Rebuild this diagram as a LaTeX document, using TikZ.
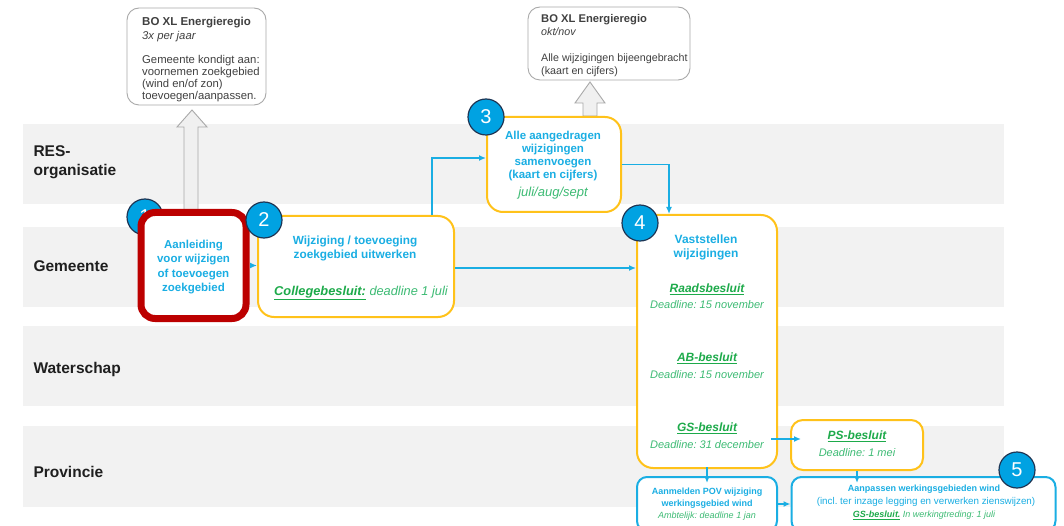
\documentclass[tikz,border=0pt]{standalone}
\usepackage{fontspec}
\setmainfont{Liberation Sans}
\usetikzlibrary{arrows.meta,shadows}
\frenchspacing
\definecolor{lane}{HTML}{F2F2F2}
\definecolor{cyanb}{HTML}{1AAEE3}
\definecolor{circ}{HTML}{00A2E2}
\definecolor{navy}{HTML}{1E3655}
\definecolor{yel}{HTML}{FFC21A}
\definecolor{grn}{HTML}{1DAA4A}
\definecolor{lgrn}{HTML}{3DBB74}
\definecolor{gbord}{HTML}{A9A9A9}
\definecolor{redb}{HTML}{BC0000}
\tikzset{
  lanebox/.style={fill=lane,draw=none},
  lanelabel/.style={anchor=west,font=\fontsize{15.5}{19}\selectfont\bfseries,align=left,text=black!88},
  infobox/.style={draw=gbord,line width=0.9pt,rounded corners=12pt,fill=white,anchor=north west,inner sep=0pt},
  infotext/.style={anchor=north west,align=left,font=\fontsize{11.3}{12}\selectfont,text=black!75,inner sep=0pt},
  yelbox/.style={draw=yel,line width=2pt,rounded corners=16pt,fill=white,inner sep=0pt},
  bluebox/.style={draw=cyanb,line width=2pt,rounded corners=10pt,fill=white,inner sep=0pt},
  ttl/.style={text=cyanb,font=\fontsize{11.5}{14.2}\selectfont\bfseries,align=center,inner sep=0pt},
  sttl/.style={text=cyanb,font=\fontsize{9}{12}\selectfont\bfseries,align=center,inner sep=0pt},
  dl/.style={text=lgrn,font=\fontsize{11}{13}\selectfont\itshape,align=center,inner sep=0pt},
  gtl/.style={text=grn,font=\fontsize{12}{13}\selectfont\itshape\bfseries,align=center,inner sep=0pt},
  sdl/.style={text=lgrn,font=\fontsize{9}{11}\selectfont\itshape,align=center,inner sep=0pt},
  numc/.style={circle,fill=circ,draw=navy,line width=1.2pt,minimum size=36pt,inner sep=0pt,text=white,font=\fontsize{20}{20}\selectfont},
  conn/.style={draw=cyanb,line width=1.5pt,-{Latex[length=7pt,width=6pt]}},
  blockarrow/.style={fill=black!6,draw=gbord,line width=0.9pt,line join=miter}
}
\newcommand{\gb}[1]{\textbf{\underline{#1}}}
\begin{document}
\begin{tikzpicture}[x=1pt,y=-1pt]
\useasboundingbox (0,0) rectangle (1064,526);
\clip (0,0) rectangle (1064,526);
\fill[white] (0,0) rectangle (1064,526);
% lanes
\fill[lanebox] (23,124) rectangle (1004,204);
\fill[lanebox] (23,227) rectangle (1004,307);
\fill[lanebox] (23,326) rectangle (1004,406);
\fill[lanebox] (23,426) rectangle (1004,507);
\node[lanelabel] (lres) at (30,162) {RES-\\organisatie};
\node[lanelabel] (lgem) at (30,266) {Gemeente};
\node[lanelabel] (lwat) at (30,369) {Waterschap};
\node[lanelabel] (lpro) at (30,472) {Provincie};
% info boxes
\draw[infobox] (127,8) rectangle (266,105);
\node[infotext] (info1) at (142,16.5) {\textbf{\fontsize{11.5}{12}\selectfont BO XL Energieregio}\\[2.5pt] \textit{3x per jaar}\\[12pt] Gemeente kondigt aan:\\ voornemen zoekgebied\\ (wind en/of zon)\\ toevoegen/aanpassen.};
\draw[infobox] (528,7) rectangle (690,80);
\node[infotext,font=\fontsize{10.7}{13}\selectfont] (info2) at (541,14) {\textbf{\fontsize{11.2}{12}\selectfont BO XL Energieregio}\\ \textit{okt/nov}\\[13pt] Alle wijzigingen bijeengebracht\\ (kaart en cijfers)};
% block arrows
\draw[blockarrow] (184,212) -- (184,127) -- (177,127) -- (192,110) -- (207,127) -- (198,127) -- (198,212) -- cycle;
\draw[blockarrow] (583,116) -- (583,103) -- (575,103) -- (590,82) -- (605,103) -- (597,103) -- (597,116) -- cycle;
% circle 1 (behind red box)
\node[numc] (c1) at (145,217) {1};
% box 1
\node[yelbox,draw=redb,line width=7pt,rounded corners=14pt,minimum width=105pt,minimum height=106pt,drop shadow={opacity=0.35,shadow xshift=1.5pt,shadow yshift=-2pt}] (b1) at (193.5,265.5) {};
\node[ttl] (t1) at (193.5,267) {Aanleiding\\voor wijzigen\\of toevoegen\\zoekgebied};
% box 2
\node[yelbox,minimum width=196pt,minimum height=101pt] (b2) at (356,266.5) {};
\node[ttl,font=\fontsize{11.8}{14}\selectfont\bfseries] (t2) at (355,248.5) {Wijziging / toevoeging\\zoekgebied uitwerken};
\node[dl,font=\fontsize{12.8}{14}\selectfont\itshape] (d2) at (361,293) {\textcolor{grn}{\gb{Collegebesluit:}} deadline 1 juli};
\node[numc] (c2) at (264,220) {2};
% box 3
\node[yelbox,minimum width=134pt,minimum height=95pt] (b3) at (554,164.5) {};
\node[ttl,font=\fontsize{11.5}{13.2}\selectfont\bfseries] (t3) at (553,156) {Alle aangedragen\\wijzigingen\\samenvoegen\\(kaart en cijfers)};
\node[dl,font=\fontsize{13}{14}\selectfont\itshape] (d3) at (553,193) {juli/aug/sept};
\node[numc] (c3) at (486,117) {3};
% box 4
\node[yelbox,minimum width=140pt,minimum height=253pt] (b4) at (707,341.5) {};
\node[ttl,font=\fontsize{12}{14}\selectfont\bfseries] (t4) at (706,247) {Vaststellen\\wijzigingen};
\node[gtl] (r4) at (707,289) {\gb{Raadsbesluit}};
\node[dl] (r4d) at (707,305) {Deadline: 15 november};
\node[gtl] (a4) at (707,358) {\gb{AB-besluit}};
\node[dl] (a4d) at (707,375) {Deadline: 15 november};
\node[gtl] (g4) at (707,428) {\gb{GS-besluit}};
\node[dl] (g4d) at (707,445) {Deadline: 31 december};
\node[numc] (c4) at (640,223) {4};
% PS box
\node[yelbox,rounded corners=12pt,minimum width=132pt,minimum height=50pt] (ps) at (857,445) {};
\node[gtl] (p1) at (857,436) {\gb{PS-besluit}};
\node[dl] (p2) at (857,453) {Deadline: 1 mei};
% POV box
\node[bluebox,minimum width=140pt,minimum height=54pt] (pov) at (707,504) {};
\node[sttl] (tp) at (707,498) {Aanmelden POV wijziging\\werkingsgebied wind};
\node[sdl] (dp) at (707,516) {Ambtelijk: deadline 1 jan};
% box 5
\node[bluebox,minimum width=264pt,minimum height=54pt] (b5) at (923.5,504) {};
\node[sttl] (t5) at (924,489) {Aanpassen werkingsgebieden wind};
\node[text=cyanb,font=\fontsize{9.8}{11}\selectfont,inner sep=0pt] (i5) at (926,501.5) {(incl. ter inzage legging en verwerken zienswijzen)};
\node[sdl] (d5) at (924,515) {\textcolor{grn}{\gb{GS-besluit.}} In werkingtreding: 1 juli};
\node[numc] (c5) at (1017,470) {5};
% connectors
\draw[conn] (b1.east) -- (b1.east -| b2.west);
\draw[conn] ([xshift=76pt]b2.north) |- ([yshift=6.5pt]b3.west);
\draw[conn] (b3.east) -| ([xshift=-38pt]b4.north);
\draw[conn] ([yshift=-1.5pt]b2.east) -- ([yshift=-1.5pt]b2.east -| b4.west);
\draw[conn] ([xshift=-7pt,yshift=6pt]b4.east |- ps.west) -- ([xshift=11pt,yshift=6pt]ps.west);
\draw[conn] ([yshift=2pt]b4.south) -- ([yshift=-7pt]pov.north);
\draw[conn] ([yshift=0pt]ps.south) -- ([yshift=-7pt]ps.south |- b5.north);
\draw[conn] (pov.east) -- (pov.east -| b5.west);
\end{tikzpicture}
\end{document}
